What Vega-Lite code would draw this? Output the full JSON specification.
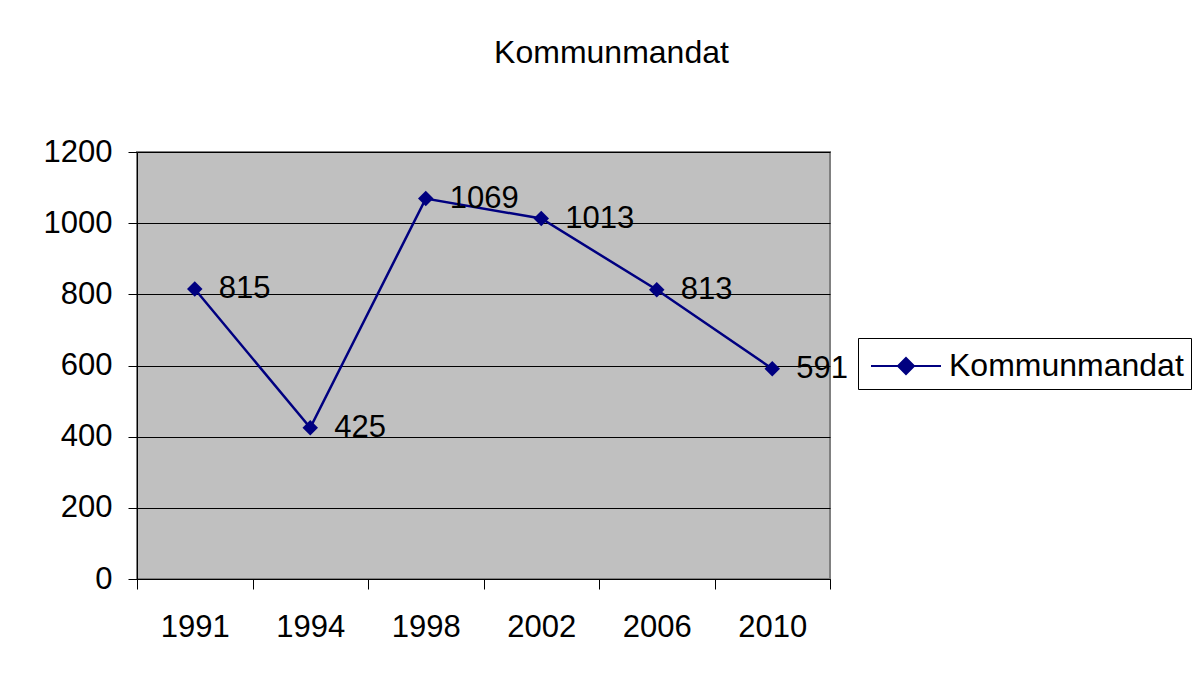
{
  "$schema": "https://vega.github.io/schema/vega-lite/v6.json",
  "width": 693,
  "height": 427,
  "autosize": {"type": "none"},
  "padding": {"left": 137, "top": 152, "right": 366, "bottom": 97},
  "background": "white",
  "title": {
    "text": "Kommunmandat",
    "font": "Liberation Sans",
    "fontSize": 32,
    "fontWeight": "normal",
    "color": "black",
    "anchor": "middle",
    "dx": 128,
    "offset": 66
  },
  "data": {
    "values": [
      {"year": "1991", "value": 815, "series": "Kommunmandat"},
      {"year": "1994", "value": 425, "series": "Kommunmandat"},
      {"year": "1998", "value": 1069, "series": "Kommunmandat"},
      {"year": "2002", "value": 1013, "series": "Kommunmandat"},
      {"year": "2006", "value": 813, "series": "Kommunmandat"},
      {"year": "2010", "value": 591, "series": "Kommunmandat"}
    ]
  },
  "encoding": {
    "x": {
      "field": "year",
      "type": "ordinal",
      "scale": {"paddingInner": 0, "paddingOuter": 0},
      "axis": {
        "title": null,
        "labelAngle": 0,
        "labelFont": "Liberation Sans",
        "labelFontSize": 31,
        "labelColor": "black",
        "tickBand": "extent",
        "tickSize": 10,
        "tickColor": "black",
        "domainColor": "black",
        "labelPadding": 23,
        "grid": false
      }
    },
    "y": {
      "field": "value",
      "type": "quantitative",
      "scale": {"domain": [0, 1200], "nice": false},
      "axis": {
        "title": null,
        "values": [0, 200, 400, 600, 800, 1000, 1200],
        "format": "d",
        "labelFont": "Liberation Sans",
        "labelFontSize": 31,
        "labelColor": "black",
        "tickSize": 9,
        "tickColor": "black",
        "domainColor": "black",
        "labelPadding": 16,
        "grid": true,
        "gridColor": "black",
        "gridOpacity": 1,
        "gridWidth": 1
      }
    }
  },
  "layer": [
    {
      "mark": {"type": "line", "color": "#000080", "strokeWidth": 2.5},
      "encoding": {
        "color": {
          "field": "series",
          "type": "nominal",
          "scale": {"range": ["#000080"]},
          "legend": {
            "title": null,
            "orient": "none",
            "legendX": 721,
            "legendY": 186,
            "strokeColor": "black",
            "fillColor": "white",
            "padding": 7,
            "labelFont": "Liberation Sans",
            "labelFontSize": 32,
            "labelColor": "black",
            "labelLimit": 400,
            "symbolType": "M-1.75,0H1.75M0,-0.4L0.4,0L0,0.4L-0.4,0Z",
            "symbolSize": 1600,
            "symbolFillColor": "#000080",
            "symbolStrokeColor": "#000080",
            "symbolStrokeWidth": 2,
            "symbolOffset": 20,
            "labelOffset": 22
          }
        }
      }
    },
    {
      "mark": {"type": "point", "shape": "diamond", "filled": true, "size": 240, "color": "#000080", "opacity": 1}
    },
    {
      "mark": {"type": "text", "align": "left", "baseline": "middle", "dx": 24, "font": "Liberation Sans", "fontSize": 31, "color": "black"},
      "encoding": {"text": {"field": "value", "type": "quantitative"}}
    }
  ],
  "config": {
    "view": {"fill": "#C0C0C0", "stroke": "#808080", "strokeWidth": 2}
  }
}
